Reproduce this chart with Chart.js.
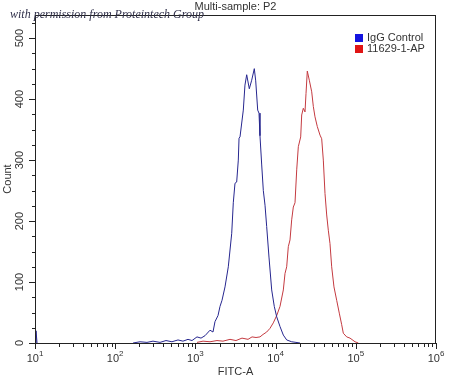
<!DOCTYPE html>
<html><head><meta charset="utf-8">
<script src="https://cdn.jsdelivr.net/npm/chart.js@4.4.1/dist/chart.umd.min.js"></script>
<style>html,body{margin:0;padding:0;background:#fff;}#wrap{width:450px;height:376px;}</style>
</head><body><div id="wrap"><canvas id="c" width="450" height="376"></canvas></div>
<script>
// ---- data ----
const chartTitle = 'Multi-sample: P2';
const watermark = 'with permission from Proteintech Group';
const seriesNames = ['IgG Control', '11629-1-AP'];
const iggX = [10.3, 10.3, 10.6, 11, 167, 204, 249, 296, 362, 430, 510, 607, 700, 809, 907, 1047, 1175, 1318, 1521, 1657, 1754, 1914, 2027, 2147, 2340, 2572, 2837, 2968, 3116, 3271, 3428, 3500, 3599, 3956, 4150, 4361, 4700, 5035, 5426, 5650, 5980, 6210, 6385, 6710, 7030, 7380, 7740, 8270, 8940, 9630, 10320, 11350, 12480, 13750, 15870, 17950, 20140];
const iggY = [0, 20, 0, null, 0, 2, 1, 3, 1, 4, 2, 5, 3, 6, 4, 10, 8, 12, 21, 18, 35, 45, 60, 70, 92, 125, 180, 230, 262, 264, 300, 336, 338, 382, 423, 440, 417, 431, 450, 430, 382, 377, 340, 292, 250, 226, 191, 141, 87, 60, 43, 27, 13, 5, 2, 1, 0];
const abX = [1047, 1245, 1521, 1859, 2208, 2700, 3206, 3811, 4530, 5085, 5700, 6385, 6970, 7740, 8510, 9360, 10320, 11350, 12480, 13100, 13750, 14400, 15120, 15870, 16630, 17460, 18330, 19200, 20550, 21150, 22150, 23260, 23940, 24850, 26330, 28200, 29530, 30990, 33110, 35780, 37560, 39360, 41310, 43370, 45420, 47670, 50040, 53450, 57780, 62260, 66710, 69890, 77040, 84700, 97750, 107500];
const abY = [1, 3, 2, 4, 3, 6, 4, 8, 6, 10, 9, 10, 14, 18, 24, 33, 45, 60, 87, 114, 125, 158, 169, 202, 223, 230, 284, 322, 338, 374, 385, 379, 409, 446, 431, 412, 388, 371, 355, 341, 335, 300, 245, 210, 185, 163, 125, 92, 70, 49, 30, 16, 10, 8, 2, 0];
const xDecades = [10, 100, 1000, 10000, 100000, 1000000];
const xExponents = ['1', '2', '3', '4', '5', '6'];
const yMajorTicks = [0, 100, 200, 300, 400, 500];
const yMinorStep = 25;
const xAxisTitle = 'FITC-A';
const yAxisTitle = 'Count';

// ---- styles ----
const lineColors = ['#26268f', '#c43a40'];
const legendColors = ['#1414e0', '#e01414'];
const FONT = '"Liberation Sans", Arial, sans-serif';
const TXT = '#333333';

const toPts = (xs, ys) => xs.map((x, i) => ({x: x, y: ys[i]}));

const xTicksAll = [];
for (let d = 0; d < xDecades.length; d++) {
  xTicksAll.push(xDecades[d]);
  if (d < xDecades.length - 1) for (let m = 2; m <= 9; m++) xTicksAll.push(xDecades[d] * m);
}
const yTicksAll = [];
for (let v = 0; v <= 525; v += yMinorStep) yTicksAll.push(v);

const decor = {
  id: 'decor',
  afterDraw(chart) {
    const ctx = chart.ctx, a = chart.chartArea;
    const xs = chart.scales.x, ys = chart.scales.y;
    ctx.save();
    // frame
    ctx.strokeStyle = '#222';
    ctx.lineWidth = 1;
    ctx.strokeRect(Math.round(a.left) + 0.5, Math.round(a.top) + 0.5, Math.round(a.right - a.left) - 1, Math.round(a.bottom - a.top));
    // x ticks
    ctx.beginPath();
    xs.ticks.forEach(t => {
      const px = Math.round(xs.getPixelForValue(t.value)) + 0.5;
      const major = xDecades.includes(t.value);
      ctx.moveTo(px, a.bottom);
      ctx.lineTo(px, a.bottom + (major ? 6 : 4));
    });
    // y ticks
    ys.ticks.forEach(t => {
      const py = Math.round(ys.getPixelForValue(t.value)) + 0.5;
      const major = t.value % 100 === 0;
      ctx.moveTo(a.left, py);
      ctx.lineTo(a.left - (major ? 6 : 3), py);
    });
    ctx.stroke();
    // x labels 10^n
    ctx.fillStyle = TXT;
    ctx.textBaseline = 'alphabetic';
    xDecades.forEach((v, i) => {
      const px = xs.getPixelForValue(v);
      ctx.font = '11px ' + FONT;
      const w1 = ctx.measureText('10').width;
      ctx.font = '8px ' + FONT;
      const w2 = ctx.measureText(xExponents[i]).width;
      const x0 = px - (w1 + w2) / 2;
      ctx.font = '11px ' + FONT;
      ctx.textAlign = 'left';
      ctx.fillText('10', x0, a.bottom + 19);
      ctx.font = '8px ' + FONT;
      ctx.fillText(xExponents[i], x0 + w1, a.bottom + 13);
    });
    // title
    ctx.font = '11px ' + FONT;
    ctx.textAlign = 'center';
    ctx.textBaseline = 'middle';
    ctx.fillText(chartTitle, (a.left + a.right) / 2, 7);
    // watermark
    ctx.font = 'italic 12px "Liberation Serif", "DejaVu Serif", serif';
    ctx.fillStyle = '#30304a';
    ctx.textAlign = 'left';
    ctx.fillText(watermark, 10, 15);
    // legend
    ctx.font = '11px ' + FONT;
    chart.data.datasets.forEach((ds, i) => {
      const cy = 38 + i * 11;
      ctx.fillStyle = legendColors[i];
      ctx.fillRect(a.right - 81, cy - 4, 8, 8);
      ctx.fillStyle = TXT;
      ctx.textAlign = 'left';
      ctx.fillText(ds.label, a.right - 69, cy);
    });
    ctx.restore();
  }
};

new Chart(document.getElementById('c'), {
  type: 'scatter',
  data: {
    datasets: [
      {label: seriesNames[0], data: toPts(iggX, iggY), showLine: true, borderColor: lineColors[0], backgroundColor: legendColors[0], borderWidth: 1, pointRadius: 0, tension: 0, spanGaps: false},
      {label: seriesNames[1], data: toPts(abX, abY), showLine: true, borderColor: lineColors[1], backgroundColor: legendColors[1], borderWidth: 1, pointRadius: 0, tension: 0, spanGaps: false}
    ]
  },
  options: {
    responsive: false,
    animation: false,
    devicePixelRatio: 1,
    layout: {padding: {top: 15, right: 14, left: 0, bottom: 0}},
    plugins: {legend: {display: false}, title: {display: false}, tooltip: {enabled: false}},
    scales: {
      x: {
        type: 'logarithmic', min: 10, max: 1000000, position: 'bottom',
        grid: {display: false, drawTicks: false},
        border: {display: false},
        ticks: {display: false},
        afterBuildTicks: s => { s.ticks = xTicksAll.map(v => ({value: v})); },
        afterFit: s => { s.height = 33; },
        title: {display: true, text: xAxisTitle, color: TXT, font: {family: FONT, size: 11}, padding: {top: 0, bottom: -3}}
      },
      y: {
        type: 'linear', min: 0, max: 538, position: 'left',
        grid: {display: false, drawTicks: false},
        border: {display: false},
        ticks: {
          display: true, autoSkip: false, minRotation: 90, maxRotation: 90, crossAlign: 'center', padding: 6,
          color: TXT, font: {family: FONT, size: 11},
          callback: v => (yMajorTicks.includes(v) ? String(v) : '')
        },
        afterBuildTicks: s => { s.ticks = yTicksAll.map(v => ({value: v})); },
        afterFit: s => { s.width = 35; },
        title: {display: true, text: yAxisTitle, color: TXT, font: {family: FONT, size: 11}, padding: {top: 1, bottom: 0}}
      }
    }
  },
  plugins: [decor]
});
</script></body></html>
